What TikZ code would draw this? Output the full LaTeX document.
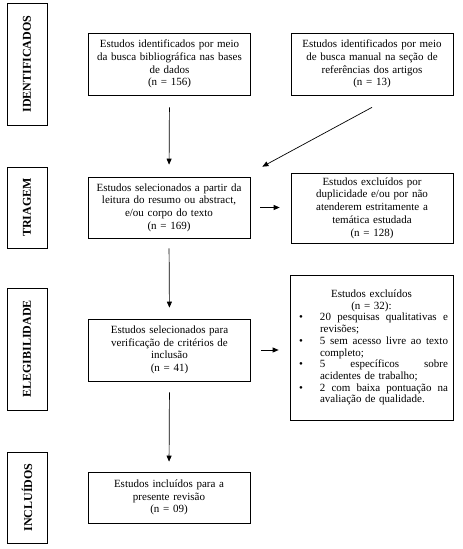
\documentclass[tikz,border=0pt]{standalone}
\usepackage{fontspec}
\setmainfont{Liberation Serif}
\usetikzlibrary{arrows.meta,calc}
\newcommand{\bulline}[1]{\leavevmode\hbox to 153pt{\hspace{4pt}\textbullet\hfill\hbox to 128pt{#1}}}
\newcommand{\contline}[1]{\leavevmode\hbox to 153pt{\hfill\hbox to 128pt{#1\hfil}}}
\newcommand{\midline}[1]{\leavevmode\hbox to 153pt{\hfil #1\hfil}}
\begin{document}
\begin{tikzpicture}[x=1pt,y=-1pt,
  box/.style={draw,line width=0.7pt,minimum width=162pt,minimum height=#1,inner sep=0pt,text width=156pt,align=center,font=\fontsize{11}{12.7}\selectfont},
  listbox/.style={draw,line width=0.7pt,minimum width=163pt,minimum height=145pt,inner xsep=5pt,inner ysep=0pt,text width=153pt,align=center,font=\fontsize{11}{11.7}\selectfont},
  side/.style={draw,line width=0.7pt,rotate=90,minimum height=40pt,minimum width=#1,inner sep=0pt,font=\fontsize{12}{14}\selectfont\bfseries},
  arr/.style={line width=0.7pt,-{Triangle[length=6pt,width=5pt]}}]
\useasboundingbox (0,0) rectangle (463,549);
% side labels
\node[side=122pt] (s1) at (27,64) {IDENTIFICADOS};
\node[side=81pt] (s2) at (27,207.5) {TRIAGEM};
\node[side=122pt] (s3) at (27,349) {ELEGIBILIDADE};
\node[side=91pt] (s4) at (27,497.5) {INCLUÍDOS};
% boxes
\node[box=62pt] (b1) at (169.5,64) {Estudos identificados por meio\\da busca bibliográfica nas bases\\de dados\\(n = 156)};
\node[box=62pt] (b2) at (372,64) {Estudos identificados por meio\\de busca manual na seção de\\referências dos artigos\\(n = 13)};
\node[box=61pt] (b3) at (169,207.5) {Estudos selecionados a partir da\\leitura do resumo ou abstract,\\e/ou corpo do texto\\(n = 169)};
\node[box=70pt] (b4) at (372,208) {Estudos excluídos por\\duplicidade e/ou por não\\atenderem estritamente a\\temática estudada\\(n = 128)};
\node[box=62pt] (b6) at (169.5,350) {Estudos selecionados para\\verificação de critérios de\\inclusão\\(n = 41)};
\node[box=51pt] (b7) at (169,497.5) {Estudos incluídos para a\\presente revisão\\(n = 09)};
\node[listbox] (b5) at (371.5,347.5) {\midline{Estudos excluídos}\\
\midline{(n = 32):}\\
\bulline{20\hfill pesquisas\hfill qualitativas\hfill e}\\
\contline{revisões;}\\
\bulline{5\hfill sem\hfill acesso\hfill livre\hfill ao\hfill texto}\\
\contline{completo;}\\
\bulline{5\hfill específicos\hfill sobre}\\
\contline{acidentes de trabalho;}\\
\bulline{2\hfill com\hfill baixa\hfill pontuação\hfill na}\\
\contline{avaliação de qualidade.}};
% connectors
\coordinate (d1) at ($(b2.south)+(0,12)$);
\coordinate (d2) at ($(b3.north east)+(12,-10)$);
\draw[arr,shorten <=12pt,shorten >=12pt] (b1.south) -- (b3.north);
\draw[arr] (d1) -- (d2);
\draw[arr,shorten <=10pt,shorten >=11pt] (b3.east) -- (b3.east -| b4.west);
\draw[arr,shorten <=10pt,shorten >=11pt] (b3.south) -- (b6.north);
\draw[arr,shorten <=10pt,shorten >=11pt] (b6.east) -- (b6.east -| b5.west);
\draw[arr,shorten <=11pt,shorten >=10pt] (b6.south) -- (b7.north);
\end{tikzpicture}
\end{document}
